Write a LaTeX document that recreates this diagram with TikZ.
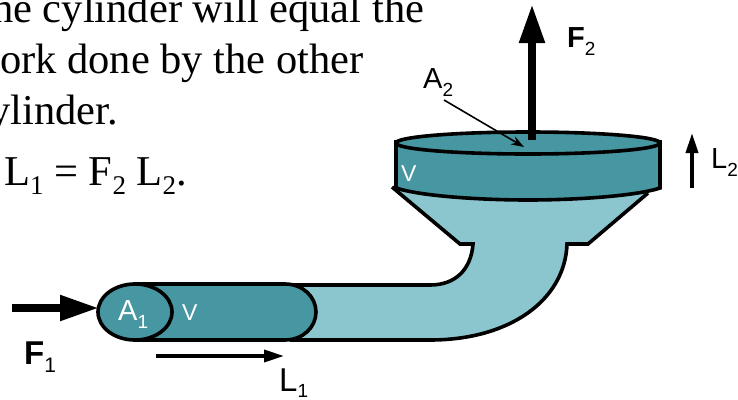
\documentclass[tikz,border=0pt]{standalone}
\usepackage{fontspec}
\setmainfont{Liberation Serif}
\newfontfamily\arialf{Liberation Sans}
\usetikzlibrary{arrows.meta,shapes.geometric}
\definecolor{darkteal}{HTML}{4797A2}
\definecolor{lightteal}{HTML}{8BC6CE}
\newcommand{\subsc}[1]{\raisebox{-8pt}{\fontsize{19}{19}\selectfont #1}}
\newcommand{\subbig}[1]{\raisebox{-8pt}{\fontsize{21}{21}\selectfont #1}}
\newcommand{\serifsub}[1]{\raisebox{-9pt}{\fontsize{27}{27}\selectfont #1}}
\tikzset{
  x=1pt,y=-1pt,
  outline/.style={draw=black,line width=3.6pt,line join=miter},
  para/.style={inner sep=0pt,anchor=base west,font=\fontsize{42.5}{42.5}\selectfont},
  lab/.style={inner sep=0pt,anchor=base west,font=\arialf\fontsize{29}{29}\selectfont},
  labbig/.style={inner sep=0pt,anchor=base west,font=\arialf\fontsize{33}{33}\selectfont},
  vlab/.style={inner sep=0pt,anchor=base west,text=white,font=\arialf\fontsize{23}{23}\selectfont},
  force/.style={line width=8pt,-{Triangle[length=39pt,width=24pt]}},
  travel/.style={line width=3.6pt,-{Triangle[length=20pt,width=12pt]}},
  pointer/.style={line width=1.6pt,-{Stealth[length=13pt,width=9pt]}}
}
\begin{document}
\begin{tikzpicture}
\useasboundingbox (0,0) rectangle (738,399);
\clip (0,0) rectangle (738,399);
% text
\node[para] (t1) at (-8,22) {he cylinder will equal the};
\node[para] (t2) at (0,73) {ork done by the other};
\node[para] (t3) at (-11,124) {ylinder.};
\node[para] (t4) at (4,185) {L\serifsub{1} = F\serifsub{2} L\serifsub{2}.};
% pipe and funnel
\path[fill=lightteal] (392,187) -- (460,244) -- (473,244)
  .. controls (471,270) and (455,285) .. (430,285) -- (290,285) -- (290,340) -- (430,340)
  .. controls (510,340) and (565,300) .. (567,244) -- (588,244) -- (648,193) -- cycle;
\draw[outline] (392,187) -- (460,244) -- (473,244)
  .. controls (471,270) and (455,285) .. (430,285) -- (290,285);
\draw[outline] (290,340) -- (430,340)
  .. controls (510,340) and (565,300) .. (567,244) -- (588,244) -- (648,193);
% small cylinder
\draw[outline,fill=darkteal] (135,284) -- (285,284)
  .. controls (303,284) and (316,297) .. (316,312)
  .. controls (316,327) and (303,340) .. (285,340) -- (135,340) -- cycle;
\node[outline,fill=darkteal,shape=ellipse,minimum width=74pt,minimum height=56pt,inner sep=0pt] (a1) at (135,312) {};
\node[vlab] (v1) at (182,320) {V};
\node[lab,text=white] (a1t) at (118,320) {A\subsc{1}};
% large cylinder
\draw[outline,fill=darkteal] (396,142) -- (396,188)
  .. controls (420,196) and (480,200) .. (528,200)
  .. controls (576,200) and (636,196) .. (660,188) -- (660,142) -- cycle;
\node[outline,fill=darkteal,shape=ellipse,minimum width=264pt,minimum height=22pt,inner sep=0pt] (a2) at (528,143) {};
\node[vlab] (v2) at (401,181) {V};
% arrows
\coordinate (f1s) at (12,308);
\coordinate (f1e) at (99,308);
\draw[force] (f1s) -- (f1e);
\coordinate (f2s) at (532,140);
\coordinate (f2e) at (532,4);
\draw[force] (f2s) -- (f2e);
\coordinate (l1s) at (156,356);
\coordinate (l1e) at (284,356);
\draw[travel] (l1s) -- (l1e);
\coordinate (l2s) at (692,188);
\coordinate (l2e) at (692,133);
\draw[travel] (l2s) -- (l2e);
\coordinate (a2s) at (444,100);
\coordinate (a2e) at (524,147);
\draw[pointer] (a2s) -- (a2e);
% labels
\node[labbig] (f1t) at (24,364) {\bfseries F\subbig{\mdseries 1}};
\node[lab] (f2t) at (567,47) {\bfseries F\subsc{\mdseries 2}};
\node[lab] (a2t) at (423,88) {A\subsc{2}};
\node[labbig] (l1t) at (279,391) {L\raisebox{-6pt}{\fontsize{19}{19}\selectfont 1}};
\node[lab] (l2t) at (711,168) {L\subsc{2}};
\end{tikzpicture}
\end{document}
